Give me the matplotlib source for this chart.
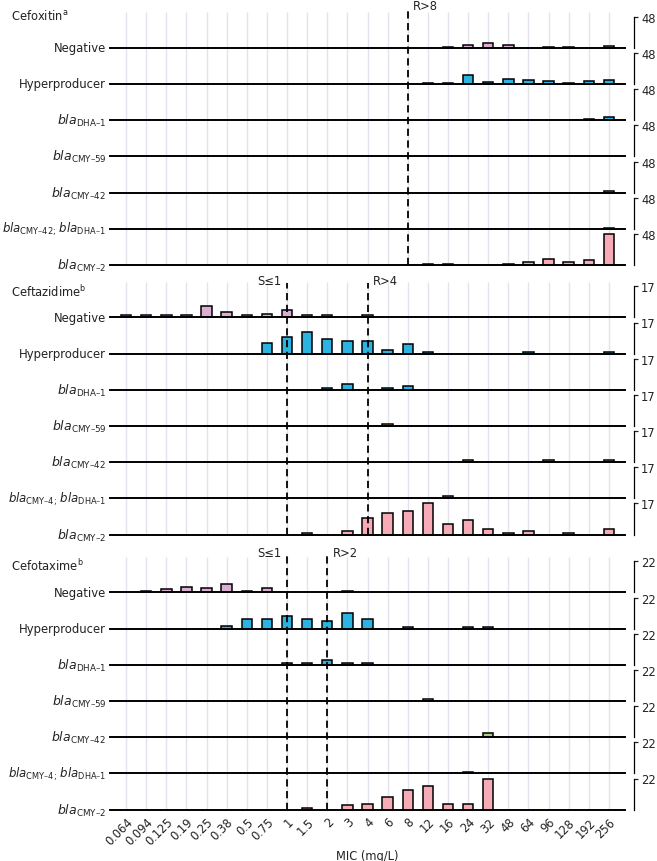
import matplotlib
matplotlib.use('Agg')
import matplotlib.pyplot as plt
import numpy as np

# ---------------- data ----------------
mic_labels = ['0.064', '0.094', '0.125', '0.19', '0.25', '0.38', '0.5', '0.75', '1', '1.5',
              '2', '3', '4', '6', '8', '12', '16', '24', '32', '48', '64', '96', '128', '192', '256']

row_names_fox = ['Negative', 'Hyperproducer',
                 r'$\it{bla}_{\mathrm{DHA–1}}$',
                 r'$\it{bla}_{\mathrm{CMY–59}}$',
                 r'$\it{bla}_{\mathrm{CMY–42}}$',
                 r'$\it{bla}_{\mathrm{CMY–42;}}\,\it{bla}_{\mathrm{DHA–1}}$',
                 r'$\it{bla}_{\mathrm{CMY–2}}$']
row_names_other = ['Negative', 'Hyperproducer',
                   r'$\it{bla}_{\mathrm{DHA–1}}$',
                   r'$\it{bla}_{\mathrm{CMY–59}}$',
                   r'$\it{bla}_{\mathrm{CMY–42}}$',
                   r'$\it{bla}_{\mathrm{CMY–4;}}\,\it{bla}_{\mathrm{DHA–1}}$',
                   r'$\it{bla}_{\mathrm{CMY–2}}$']

# Cefoxitin
fox_neg    = [0]*16 + [1, 4, 8, 4, 0, 1, 1, 0, 2]
fox_hyp    = [0]*15 + [1, 1, 14, 3, 8, 6, 5, 1, 5, 6]
fox_dha    = [0]*23 + [1, 5]
fox_cmy59  = [0]*18 + [1] + [0]*6
fox_cmy42  = [0]*24 + [2]
fox_combo  = [0]*24 + [1]
fox_cmy2   = [0]*15 + [1, 1, 0, 0, 2, 5, 9, 5, 7, 48]

# Ceftazidime
ctz_neg    = [1, 1, 1, 1, 6, 3, 1, 2, 4, 1, 1, 0, 1] + [0]*12
ctz_hyp    = [0]*7 + [6, 9, 12, 8, 7, 7, 2, 5, 1, 0, 0, 0, 0, 1, 0, 0, 0, 1]
ctz_dha    = [0]*10 + [1, 3, 0, 1, 2] + [0]*10
ctz_cmy59  = [0]*13 + [1] + [0]*11
ctz_cmy42  = [0]*17 + [1, 0, 0, 0, 1, 0, 0, 1]
ctz_combo  = [0]*16 + [1] + [0]*8
ctz_cmy2   = [0]*9 + [1, 0, 2, 9, 12, 13, 17, 6, 8, 3, 1, 2, 0, 1, 0, 3]

# Cefotaxime
ctx_neg    = [0, 1, 2, 4, 3, 6, 1, 3, 0, 0, 0, 1] + [0]*13
ctx_hyp    = [0]*5 + [2, 7, 7, 9, 7, 5, 11, 7, 0, 1, 0, 0, 1, 1, 0, 0, 0, 0, 0, 0]
ctx_dha    = [0]*8 + [1, 1, 3, 1, 1] + [0]*12
ctx_cmy59  = [0]*15 + [1] + [0]*9
ctx_cmy42  = [0]*18 + [3] + [0]*6
ctx_combo  = [0]*17 + [1] + [0]*7
ctx_cmy2   = [0]*9 + [1, 0, 3, 4, 9, 14, 17, 4, 4, 22] + [0]*6

panel_titles = [r'Cefoxitin$^{\mathrm{a}}$', r'Ceftazidime$^{\mathrm{b}}$', r'Cefotaxime$^{\mathrm{b}}$']
panel_max = [48, 17, 22]
breakpoints = [[(14, 'R>8', 'right')],
               [(8, 'S≤1', 'left'), (12, 'R>4', 'right')],
               [(8, 'S≤1', 'left'), (10, 'R>2', 'right')]]

row_colors = ['#dcaed2', '#2cb3e0', '#2cb3e0', '#f2b56b', '#a7d08b', '#b9a3d6', '#f6abb6']

panels = [
    [fox_neg, fox_hyp, fox_dha, fox_cmy59, fox_cmy42, fox_combo, fox_cmy2],
    [ctz_neg, ctz_hyp, ctz_dha, ctz_cmy59, ctz_cmy42, ctz_combo, ctz_cmy2],
    [ctx_neg, ctx_hyp, ctx_dha, ctx_cmy59, ctx_cmy42, ctx_combo, ctx_cmy2],
]
panel_rownames = [row_names_fox, row_names_other, row_names_other]

# ---------------- layout (pixels) ----------------
W, H = 657, 862
fig = plt.figure(figsize=(W / 100, H / 100), dpi=100)
plt.rcParams['font.family'] = ['DejaVu Sans']

X0, X1 = 110, 625
first_base = [48.7, 318.3, 593.3]
spacing = 36.2
row_h = 31
grid_top = [13, 283, 558]
dash_top = [9, 284, 556]
title_y = [16, 292, 566]
FS = 8
TXT = '#222222'


def fbox(left, top, right, bottom):
    return [left / W, 1 - bottom / H, (right - left) / W, (bottom - top) / H]


xlim = (-0.8, 24.8)
for p in range(3):
    bases = [first_base[p] + spacing * i for i in range(7)]
    bottom = bases[-1]

    # background grid
    g = fig.add_axes(fbox(X0, grid_top[p], X1, bottom), zorder=0)
    g.set_xlim(*xlim)
    g.set_ylim(0, 1)
    g.axis('off')
    g.vlines(np.arange(len(mic_labels)), 0, 1, color='#e1e4ec', lw=1.0)

    # rows
    ymax = panel_max[p]
    for r, vals in enumerate(panels[p]):
        b = bases[r]
        ax = fig.add_axes(fbox(X0, b - row_h, X1, b), zorder=1)
        ax.patch.set_visible(False)
        ax.set_xlim(*xlim)
        ax.set_ylim(0, ymax)
        v = np.array(vals, dtype=float)
        idx = np.nonzero(v)[0]
        ax.bar(idx, v[idx], width=0.52, color=row_colors[r], edgecolor='black',
               linewidth=1.1, zorder=2, clip_on=False)
        ax.axhline(0, color='black', lw=1.4, zorder=3, clip_on=False)
        for s in ['top', 'left', 'bottom']:
            ax.spines[s].set_visible(False)
        ax.spines['right'].set_position(('outward', 6.5))
        ax.spines['right'].set_bounds(0, ymax)
        ax.spines['right'].set_linewidth(0.9)
        ax.yaxis.tick_right()
        ax.set_yticks([ymax])
        ax.set_yticklabels([str(ymax)])
        ax.tick_params(axis='y', length=3, width=0.9, pad=2, labelsize=8.3, colors=TXT)
        if r < 2:
            lab_fs = 8.4
        elif r == 5:
            lab_fs = 8.5
        else:
            lab_fs = 9
        ax.text(-4 / (X1 - X0), 0, panel_rownames[p][r], transform=ax.get_yaxis_transform(),
                ha='right', va='center', fontsize=lab_fs, color=TXT)
        if p == 2 and r == 6:
            ax.set_xticks(np.arange(len(mic_labels)))
            ax.set_xticklabels(mic_labels, rotation=45, ha='right', va='top',
                               rotation_mode='anchor', fontsize=8.3, color=TXT)
            ax.tick_params(axis='x', length=0, pad=4)
            ax.set_xlabel('MIC (mg/L)', fontsize=8.3, color=TXT, labelpad=1)
        else:
            ax.set_xticks([])

    # breakpoint overlay
    o = fig.add_axes(fbox(X0, dash_top[p], X1, bottom), zorder=5)
    o.patch.set_visible(False)
    o.axis('off')
    o.set_xlim(*xlim)
    o.set_ylim(0, 1)
    for (bi, lab, side) in breakpoints[p]:
        o.vlines([bi], 0, 1, colors='black', linestyles=(0, (4, 2.5)), lw=1.3)
        dx = 4 if side == 'right' else -4
        o.annotate(lab, xy=(bi, 1), xycoords='data', xytext=(dx, 1.5), textcoords='offset points',
                   ha='left' if side == 'right' else 'right', va='center', fontsize=8.3,
                   color=TXT, annotation_clip=False)

    fig.text(11 / W, 1 - title_y[p] / H, panel_titles[p], ha='left', va='center',
             fontsize=8.3, color=TXT)

fig.savefig('out.png', dpi=100)
